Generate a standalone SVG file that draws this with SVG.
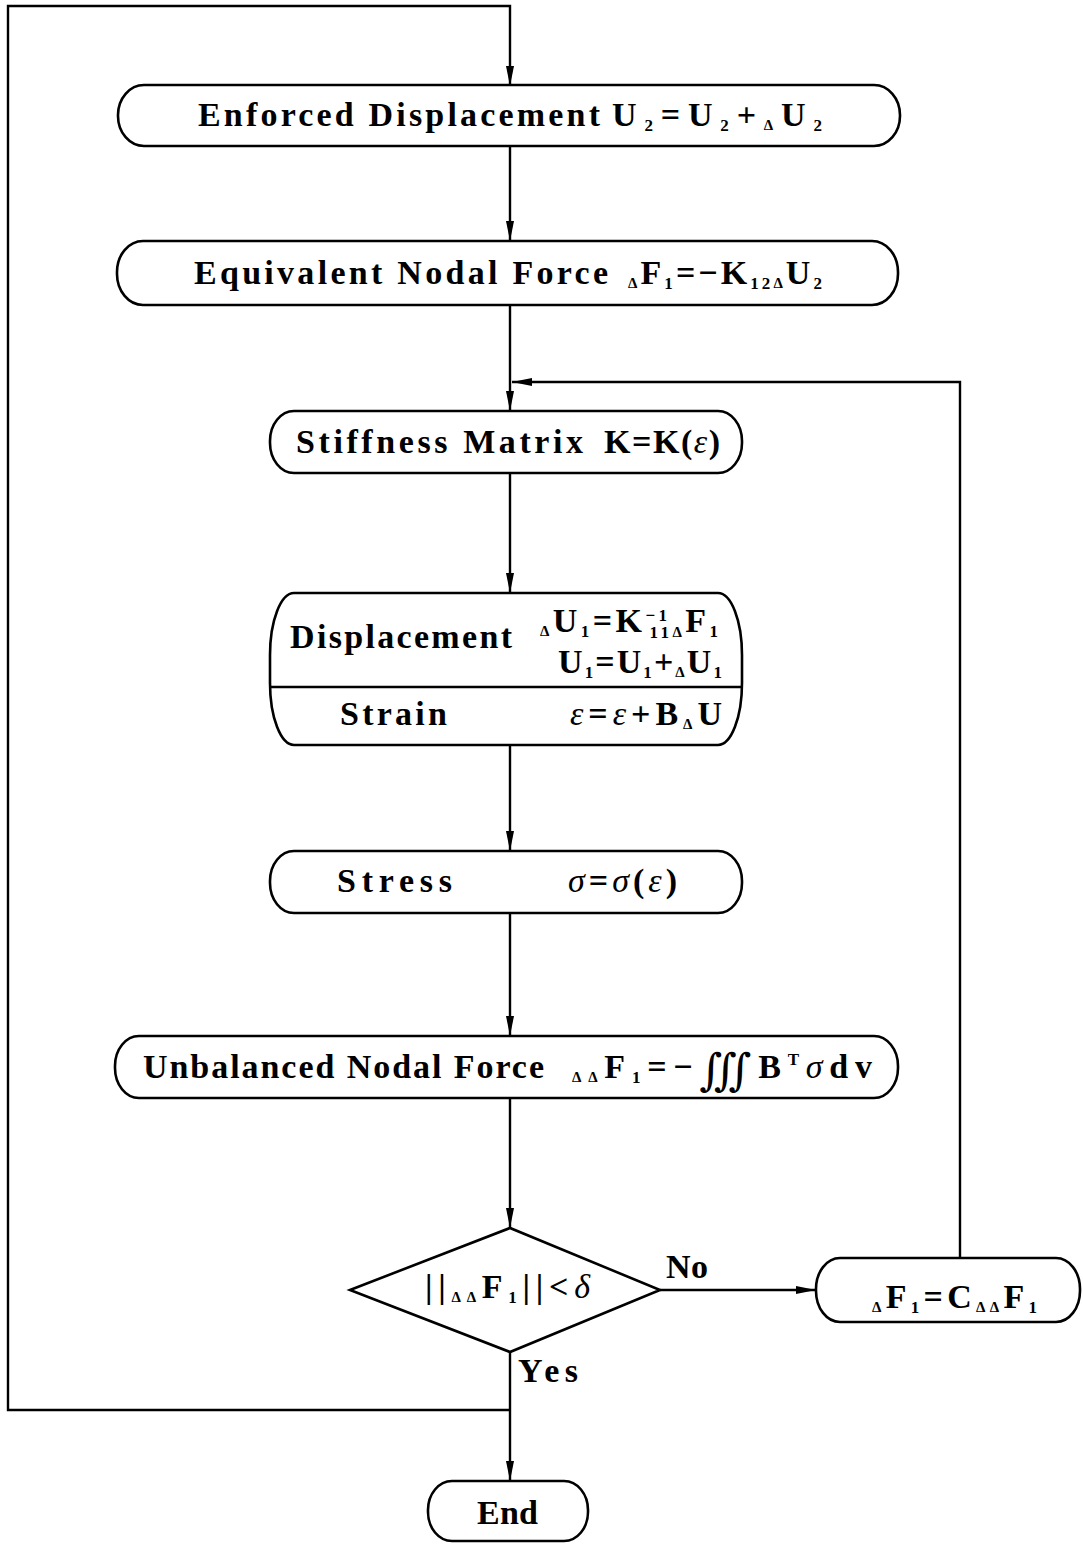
<svg xmlns="http://www.w3.org/2000/svg" width="1083" height="1544" viewBox="0 0 1083 1544">
<defs>
<marker id="ah" markerUnits="userSpaceOnUse" markerWidth="22" markerHeight="10" refX="20" refY="4" orient="auto">
<path d="M0,0 L20,4 L0,8 Z" fill="#000"/>
</marker>
<style>
.box{fill:#fff;stroke:#000;stroke-width:2.6}
.ln{fill:none;stroke:#000;stroke-width:2.4}
text{font-family:"Liberation Serif","DejaVu Serif",serif;font-weight:bold;font-size:34px;fill:#000}
.sub{font-size:17px}
.d{font-size:15px}
.g{font-style:italic;font-weight:normal}
</style>
</defs>
<rect width="1083" height="1544" fill="#fff"/>
<g id="connectors">
<path class="ln" d="M510,1410 H8 V6 H510 V86" marker-end="url(#ah)"/>
<path class="ln" d="M510,146 V241" marker-end="url(#ah)"/>
<path class="ln" d="M510,305 V411" marker-end="url(#ah)"/>
<path class="ln" d="M960,1258 V382 H512" marker-end="url(#ah)"/>
<path class="ln" d="M510,473 V593" marker-end="url(#ah)"/>
<path class="ln" d="M510,745 V851" marker-end="url(#ah)"/>
<path class="ln" d="M510,913 V1036" marker-end="url(#ah)"/>
<path class="ln" d="M510,1098 V1228" marker-end="url(#ah)"/>
<path class="ln" d="M660,1290 H816" marker-end="url(#ah)"/>
<path class="ln" d="M510,1352 V1481" marker-end="url(#ah)"/>
</g>
<g id="n1">
<rect class="box" x="118" y="85" width="782" height="61" rx="26" ry="30"/>
<text x="198" y="126" textLength="402" lengthAdjust="spacing">Enforced Displacement</text>
<text x="612" y="126" textLength="210" lengthAdjust="spacing">U<tspan class="sub" dy="5">2</tspan><tspan dy="-5">=U</tspan><tspan class="sub" dy="5">2</tspan><tspan dy="-5">+</tspan><tspan class="d" dy="4">Δ</tspan><tspan dy="-4">U</tspan><tspan class="sub" dy="5">2</tspan></text>
</g>
<g id="n2">
<rect class="box" x="117" y="241" width="781" height="64" rx="26" ry="31"/>
<text x="194" y="284" textLength="414" lengthAdjust="spacing">Equivalent Nodal Force</text>
<text x="628" y="284" textLength="194" lengthAdjust="spacing"><tspan class="d" dy="4">Δ</tspan><tspan dy="-4">F</tspan><tspan class="sub" dy="5">1</tspan><tspan dy="-5">=−K</tspan><tspan class="sub" dy="5">12</tspan><tspan class="d" dy="-1">Δ</tspan><tspan dy="-4">U</tspan><tspan class="sub" dy="5">2</tspan></text>
</g>
<g id="n3">
<rect class="box" x="270" y="411" width="472" height="62" rx="24" ry="30"/>
<text x="296" y="453" textLength="287" lengthAdjust="spacing">Stiffness Matrix</text>
<text x="604" y="453" textLength="116" lengthAdjust="spacing">K=K(<tspan class="g">ε</tspan>)</text>
</g>
<g id="n4">
<rect class="box" x="270" y="593" width="472" height="152" rx="24" ry="62"/>
<line class="ln" x1="270" y1="687" x2="742" y2="687"/>
<text x="290" y="648" textLength="222" lengthAdjust="spacing">Displacement</text>
<text x="540" y="632" textLength="178" lengthAdjust="spacing"><tspan class="d" dy="4">Δ</tspan><tspan dy="-4">U</tspan><tspan class="sub" dy="5">1</tspan><tspan dy="-5">=K</tspan><tspan class="sub" dy="-11">−1</tspan><tspan class="sub" dx="-20" dy="17">11</tspan><tspan class="d" dy="-1">Δ</tspan><tspan dy="-5">F</tspan><tspan class="sub" dy="5">1</tspan></text>
<text x="558" y="673" textLength="164" lengthAdjust="spacing">U<tspan class="sub" dy="5">1</tspan><tspan dy="-5">=U</tspan><tspan class="sub" dy="5">1</tspan><tspan dy="-5">+</tspan><tspan class="d" dy="4">Δ</tspan><tspan dy="-4">U</tspan><tspan class="sub" dy="5">1</tspan></text>
<text x="340" y="725" textLength="107" lengthAdjust="spacing">Strain</text>
<text x="570" y="725" textLength="152" lengthAdjust="spacing"><tspan class="g">ε</tspan>=<tspan class="g">ε</tspan>+B<tspan class="d" dy="4">Δ</tspan><tspan dy="-4">U</tspan></text>
</g>
<g id="n5">
<rect class="box" x="270" y="851" width="472" height="62" rx="24" ry="30"/>
<text x="337" y="892" textLength="115" lengthAdjust="spacing">Stress</text>
<text x="568" y="892" textLength="109" lengthAdjust="spacing"><tspan class="g">σ</tspan>=<tspan class="g">σ</tspan>(<tspan class="g">ε</tspan>)</text>
</g>
<g id="n6">
<rect class="box" x="115" y="1036" width="783" height="62" rx="24" ry="30"/>
<text x="143" y="1078" textLength="401" lengthAdjust="spacing">Unbalanced Nodal Force</text>
<text x="572" y="1078" textLength="300" lengthAdjust="spacing"><tspan class="d" dy="4">ΔΔ</tspan><tspan dy="-4">F</tspan><tspan class="sub" dy="5">1</tspan><tspan dy="-5">=−</tspan><tspan style="font-family:'DejaVu Serif',serif;font-weight:normal;font-size:44px" dy="7">∭</tspan><tspan dy="-7">B</tspan><tspan class="sub" dy="-13">T</tspan><tspan class="g" dy="13">σ</tspan>dv</text>
</g>
<g id="n7">
<polygon class="box" points="350,1290 510,1228 660,1290 510,1352"/>
<text x="425" y="1298" textLength="165" lengthAdjust="spacing">||<tspan class="d" dy="4">ΔΔ</tspan><tspan dy="-4">F</tspan><tspan class="sub" dy="5">1</tspan><tspan dy="-5">||&lt;</tspan><tspan class="g">δ</tspan></text>
</g>
<g id="n8">
<rect class="box" x="816" y="1258" width="264" height="64" rx="24" ry="31"/>
<text x="872" y="1308" textLength="165" lengthAdjust="spacing"><tspan class="d" dy="4">Δ</tspan><tspan dy="-4">F</tspan><tspan class="sub" dy="5">1</tspan><tspan dy="-5">=C</tspan><tspan class="d" dy="4">ΔΔ</tspan><tspan dy="-4">F</tspan><tspan class="sub" dy="5">1</tspan></text>
</g>
<g id="n9">
<rect class="box" x="428" y="1481" width="160" height="60" rx="24" ry="29"/>
<text x="477" y="1524" textLength="61" lengthAdjust="spacing">End</text>
</g>
<g id="labels">
<text x="666" y="1278" textLength="42" lengthAdjust="spacing">No</text>
<text x="518" y="1382" textLength="60" lengthAdjust="spacing">Yes</text>
</g>
</svg>
